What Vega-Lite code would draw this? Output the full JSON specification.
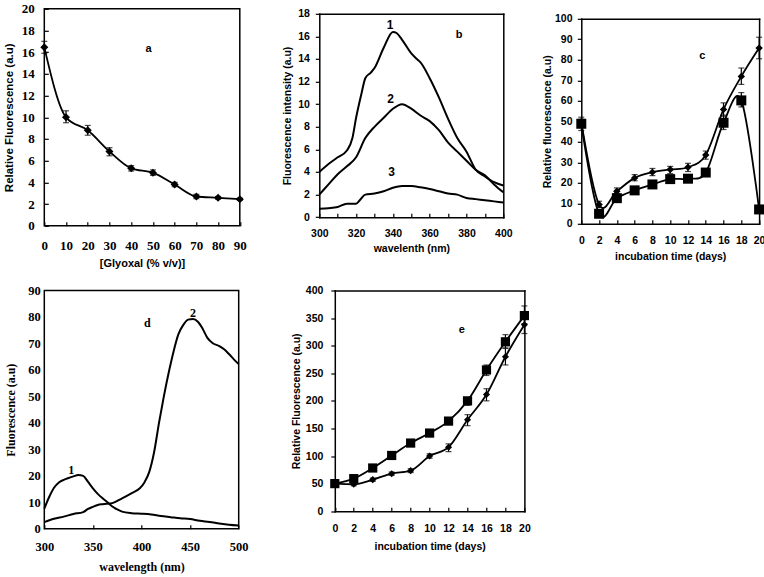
{
"$schema": "https://vega.github.io/schema/vega-lite/v6.json",
"background": "white",
"padding": {"left": 2.3, "top": 1.8, "right": 0, "bottom": 0},
"config": {
  "view": {"stroke": "black", "strokeWidth": 1.5},
  "axis": {"grid": false, "domain": false, "domainColor": "black", "domainWidth": 1.5, "domainCap": "square", "tickColor": "black", "tickWidth": 1.2, "labelColor": "black", "titleColor": "black", "labelFontWeight": "bold", "titleFontWeight": "bold", "labelFont": "Liberation Sans", "titleFont": "Liberation Sans", "labelFontSize": 10.5, "titleFontSize": 10.5, "labelOverlap": false, "labelFlush": false},
  "mark": {"color": "black"},
  "line": {"color": "black"},
  "point": {"color": "black"}
},
"columns": 5,
"bounds": "flush",
"spacing": {"row": 64.7, "column": 0},
"concat": [
  {
    "width": 195.5, "height": 217,
    "data": {"values": [{"x":0,"y":16.45,"lo":15.9,"hi":17.0},{"x":10,"y":10.0,"lo":9.5,"hi":10.6},{"x":20,"y":8.8,"lo":8.35,"hi":9.25},{"x":30,"y":6.85,"lo":6.45,"hi":7.2},{"x":40,"y":5.3,"lo":5.05,"hi":5.55},{"x":50,"y":4.9,"lo":4.65,"hi":5.15},{"x":60,"y":3.8,"lo":3.6,"hi":4.0},{"x":70,"y":2.7,"lo":2.5,"hi":2.9},{"x":80,"y":2.58,"lo":2.45,"hi":2.7},{"x":90,"y":2.45,"lo":2.35,"hi":2.55}]},
    "encoding": {
      "x": {"field": "x", "type": "quantitative", "title": "[Glyoxal (% v/v)]", "scale": {"domain": [0, 90], "nice": false, "zero": false},
            "axis": {"values": [0,10,20,30,40,50,60,70,80,90], "tickSize": -4, "labelPadding": 17.5, "labelFont": "Liberation Serif", "labelFontSize": 13, "titleFontSize": 11, "titlePadding": 5.7}},
      "y": {"field": "y", "type": "quantitative", "title": "Relative Fluorescence (a.u)", "scale": {"domain": [0, 20], "nice": false},
            "axis": {"values": [0,2,4,6,8,10,12,14,16,18,20], "tickSize": -4, "labelPadding": 14, "labelFont": "Liberation Serif", "labelFontSize": 13, "titleFontSize": 11.5, "titlePadding": 6.5}}
    },
    "layer": [
      {"mark": {"type": "line", "interpolate": "monotone", "strokeWidth": 1.8}},
      {"mark": {"type": "errorbar", "ticks": true, "size": 6, "thickness": 1.2, "color": "black"},
       "encoding": {"y": {"field": "lo", "type": "quantitative", "title": "Relative Fluorescence (a.u)", "scale": {"domain": [0, 20], "nice": false}}, "y2": {"field": "hi"}}},
      {"mark": {"type": "point", "shape": "diamond", "filled": true, "size": 64, "opacity": 1}},
      {"data": {"values": [{"x": 48, "y": 16.3, "t": "a"}]}, "mark": {"type": "text", "font": "Liberation Sans", "fontSize": 11, "fontWeight": "bold"}, "encoding": {"text": {"field": "t"}}}
    ]
  },
  {"width": 78.4, "height": 1, "data": {"values": []}, "mark": "point", "encoding": {}, "view": {"stroke": null}},
  {
    "width": 184, "height": 208.4, "view": {"stroke": null},
    "data": {"values": [
      {"c":1,"x":300,"y":4.0},{"c":1,"x":305,"y":4.7},{"c":1,"x":310,"y":5.3},{"c":1,"x":315,"y":5.9},{"c":1,"x":318,"y":7.0},{"c":1,"x":320,"y":8.8},{"c":1,"x":323,"y":11.0},{"c":1,"x":325,"y":12.3},{"c":1,"x":328,"y":12.8},{"c":1,"x":330,"y":13.2},{"c":1,"x":335,"y":15.0},{"c":1,"x":340,"y":16.4},{"c":1,"x":342,"y":16.3},{"c":1,"x":345,"y":15.7},{"c":1,"x":350,"y":14.5},{"c":1,"x":353,"y":14.0},{"c":1,"x":355,"y":13.7},{"c":1,"x":360,"y":12.3},{"c":1,"x":365,"y":10.6},{"c":1,"x":370,"y":8.7},{"c":1,"x":375,"y":7.0},{"c":1,"x":380,"y":5.8},{"c":1,"x":385,"y":4.2},{"c":1,"x":390,"y":3.6},{"c":1,"x":395,"y":3.1},{"c":1,"x":400,"y":2.8},
      {"c":2,"x":300,"y":2.0},{"c":2,"x":305,"y":2.9},{"c":2,"x":310,"y":3.8},{"c":2,"x":315,"y":4.5},{"c":2,"x":320,"y":5.3},{"c":2,"x":325,"y":7.0},{"c":2,"x":330,"y":8.0},{"c":2,"x":335,"y":8.8},{"c":2,"x":340,"y":9.6},{"c":2,"x":345,"y":10.0},{"c":2,"x":350,"y":9.6},{"c":2,"x":355,"y":9.0},{"c":2,"x":360,"y":8.5},{"c":2,"x":365,"y":7.7},{"c":2,"x":370,"y":6.6},{"c":2,"x":375,"y":5.8},{"c":2,"x":380,"y":5.0},{"c":2,"x":385,"y":4.2},{"c":2,"x":390,"y":3.7},{"c":2,"x":395,"y":2.9},{"c":2,"x":400,"y":2.2},
      {"c":3,"x":300,"y":0.75},{"c":3,"x":305,"y":0.8},{"c":3,"x":310,"y":0.9},{"c":3,"x":315,"y":1.2},{"c":3,"x":320,"y":1.2},{"c":3,"x":322,"y":1.5},{"c":3,"x":325,"y":2.0},{"c":3,"x":330,"y":2.1},{"c":3,"x":335,"y":2.3},{"c":3,"x":340,"y":2.6},{"c":3,"x":345,"y":2.75},{"c":3,"x":350,"y":2.75},{"c":3,"x":355,"y":2.65},{"c":3,"x":360,"y":2.5},{"c":3,"x":365,"y":2.3},{"c":3,"x":370,"y":2.1},{"c":3,"x":375,"y":2.0},{"c":3,"x":380,"y":1.7},{"c":3,"x":385,"y":1.6},{"c":3,"x":390,"y":1.5},{"c":3,"x":395,"y":1.4},{"c":3,"x":400,"y":1.3}
    ]},
    "layer": [
      {"mark": {"type": "line", "interpolate": "monotone", "strokeWidth": 2},
       "encoding": {
         "x": {"field": "x", "type": "quantitative", "title": "wavelenth (nm)", "scale": {"domain": [300, 400], "nice": false, "zero": false},
               "axis": {"values": [300,310,320,330,340,350,360,370,380,390,400], "labelExpr": "datum.value % 20 === 0 ? datum.label : ''", "tickSize": -4, "labelPadding": 15.35, "titlePadding": 4.5, "domain": true}},
         "y": {"field": "y", "type": "quantitative", "title": "Fluorescence intensity (a.u)", "scale": {"domain": [0, 18], "nice": false, "range": [208.4, 5]},
               "axis": {"values": [0,2,4,6,8,10,12,14,16,18], "tickSize": 4, "labelPadding": 6, "titlePadding": 5, "domain": true}},
         "detail": {"field": "c"}}},
      {"data": {"values": [{"x": 338.4, "y": 17.0, "t": "1"}, {"x": 338.8, "y": 10.5, "t": "2"}, {"x": 339.3, "y": 4.0, "t": "3"}]},
       "mark": {"type": "text", "font": "Liberation Sans", "fontSize": 12, "fontWeight": "bold"},
       "encoding": {
         "x": {"field": "x", "type": "quantitative", "title": null, "scale": {"domain": [300, 400], "nice": false, "zero": false},
               "axis": {"orient": "top", "labels": false, "ticks": false, "domain": true, "offset": -5}},
         "y": {"field": "y", "type": "quantitative", "title": null, "scale": {"domain": [0, 18], "nice": false, "range": [208.4, 5]},
               "axis": {"orient": "right", "labels": false, "ticks": false, "domain": true}},
         "text": {"field": "t"}}},
      {"data": {"values": [{"x": 376, "y": 16.1, "t": "b"}]},
       "mark": {"type": "text", "font": "Liberation Sans", "fontSize": 11, "fontWeight": "bold"},
       "encoding": {
         "x": {"field": "x", "type": "quantitative", "scale": {"domain": [300, 400], "nice": false, "zero": false}, "axis": null},
         "y": {"field": "y", "type": "quantitative", "scale": {"domain": [0, 18], "nice": false, "range": [208.4, 5]}, "axis": null},
         "text": {"field": "t"}}}
    ],
    "resolve": {"axis": {"x": "independent", "y": "independent"}}
  },
  {"width": 55.9, "height": 1, "data": {"values": []}, "mark": "point", "encoding": {}, "view": {"stroke": null}},
  {
    "width": 177.8, "height": 215, "view": {"stroke": null},
    "data": {"values": [
      {"s":"d","x":0,"y":49.6,"lo":47,"hi":52},{"s":"d","x":2,"y":9.4,"lo":8,"hi":11},{"s":"d","x":4,"y":15.9,"lo":14.5,"hi":17.5},{"s":"d","x":6,"y":22.4,"lo":21,"hi":24},{"s":"d","x":8,"y":25.2,"lo":23.5,"hi":27},{"s":"d","x":10,"y":26.5,"lo":24.5,"hi":28},{"s":"d","x":12,"y":27.6,"lo":25.5,"hi":29.5},{"s":"d","x":14,"y":33.6,"lo":31.5,"hi":35.5},{"s":"d","x":16,"y":55.8,"lo":52.5,"hi":59},{"s":"d","x":18,"y":71.9,"lo":68,"hi":76},{"s":"d","x":20,"y":85.7,"lo":80.5,"hi":91},
      {"s":"s","x":0,"y":48.8,"lo":45.5,"hi":51},{"s":"s","x":2,"y":4.9,"lo":4,"hi":6},{"s":"s","x":4,"y":12.5,"lo":11.5,"hi":13.5},{"s":"s","x":6,"y":16.3,"lo":15.5,"hi":17},{"s":"s","x":8,"y":19.2,"lo":18,"hi":20},{"s":"s","x":10,"y":21.8,"lo":21,"hi":22.5},{"s":"s","x":12,"y":22,"lo":21.3,"hi":22.7},{"s":"s","x":14,"y":25,"lo":24,"hi":26},{"s":"s","x":16,"y":49.3,"lo":46,"hi":53},{"s":"s","x":18,"y":60.2,"lo":57,"hi":64},{"s":"s","x":20,"y":7,"lo":6,"hi":8}
    ]},
    "layer": [
      {"mark": {"type": "line", "interpolate": "cardinal", "strokeWidth": 1.8},
       "encoding": {
         "x": {"field": "x", "type": "quantitative", "title": "incubation time (days)", "scale": {"domain": [0, 20], "nice": false, "zero": false},
               "axis": {"values": [0,2,4,6,8,10,12,14,16,18,20], "tickSize": -4, "labelPadding": 15.45, "titlePadding": 6.2, "domain": true}},
         "y": {"field": "y", "type": "quantitative", "title": "Relative fluorescence  (a.u)", "scale": {"domain": [0, 100], "nice": false, "range": [215, 10]},
               "axis": {"values": [0,10,20,30,40,50,60,70,80,90,100], "tickSize": 4, "labelPadding": 5.3, "titlePadding": 1.5, "domain": true}},
         "detail": {"field": "s"}}},
      {"mark": {"type": "errorbar", "ticks": true, "size": 6, "thickness": 1.2, "color": "black"},
       "encoding": {
         "x": {"field": "x", "type": "quantitative", "scale": {"domain": [0, 20], "nice": false, "zero": false}, "axis": null},
         "y": {"field": "lo", "type": "quantitative", "scale": {"domain": [0, 100], "nice": false, "range": [215, 10]}, "axis": null},
         "y2": {"field": "hi"}}},
      {"transform": [{"filter": "datum.s === 'd'"}], "mark": {"type": "point", "shape": "diamond", "filled": true, "size": 55, "opacity": 1},
       "encoding": {
         "x": {"field": "x", "type": "quantitative", "scale": {"domain": [0, 20], "nice": false, "zero": false}, "axis": null},
         "y": {"field": "y", "type": "quantitative", "scale": {"domain": [0, 100], "nice": false, "range": [215, 10]}, "axis": null}}},
      {"transform": [{"filter": "datum.s === 's'"}], "mark": {"type": "point", "shape": "square", "filled": true, "size": 100, "opacity": 1},
       "encoding": {
         "x": {"field": "x", "type": "quantitative", "scale": {"domain": [0, 20], "nice": false, "zero": false}, "axis": null},
         "y": {"field": "y", "type": "quantitative", "scale": {"domain": [0, 100], "nice": false, "range": [215, 10]}, "axis": null}}},
      {"data": {"values": [{"x": 13.6, "y": 82, "t": "c"}]},
       "mark": {"type": "text", "font": "Liberation Sans", "fontSize": 11, "fontWeight": "bold"},
       "encoding": {
         "x": {"field": "x", "type": "quantitative", "title": null, "scale": {"domain": [0, 20], "nice": false, "zero": false},
               "axis": {"orient": "top", "labels": false, "ticks": false, "domain": true, "offset": -10}},
         "y": {"field": "y", "type": "quantitative", "title": null, "scale": {"domain": [0, 100], "nice": false, "range": [215, 10]},
               "axis": {"orient": "right", "labels": false, "ticks": false, "domain": true}},
         "text": {"field": "t"}}}
    ],
    "resolve": {"axis": {"x": "independent", "y": "independent"}}
  },
  {
    "width": 194.4, "height": 238.3,
    "data": {"values": [
      {"c":1,"x":300,"y":7.6},{"c":1,"x":305,"y":12},{"c":1,"x":310,"y":15.5},{"c":1,"x":315,"y":17.5},{"c":1,"x":320,"y":18.5},{"c":1,"x":325,"y":19.2},{"c":1,"x":330,"y":19.8},{"c":1,"x":335,"y":20.3},{"c":1,"x":340,"y":20.0},{"c":1,"x":345,"y":17.7},{"c":1,"x":350,"y":15.3},{"c":1,"x":355,"y":13.2},{"c":1,"x":360,"y":11.5},{"c":1,"x":365,"y":10.0},{"c":1,"x":370,"y":8.4},{"c":1,"x":375,"y":7.3},{"c":1,"x":380,"y":6.5},{"c":1,"x":390,"y":5.9},{"c":1,"x":400,"y":5.7},{"c":1,"x":410,"y":5.4},{"c":1,"x":420,"y":4.8},{"c":1,"x":430,"y":4.4},{"c":1,"x":440,"y":4.0},{"c":1,"x":450,"y":3.7},{"c":1,"x":460,"y":3.0},{"c":1,"x":470,"y":2.6},{"c":1,"x":480,"y":2.0},{"c":1,"x":490,"y":1.5},{"c":1,"x":500,"y":1.2},
      {"c":2,"x":300,"y":2.5},{"c":2,"x":310,"y":3.8},{"c":2,"x":320,"y":4.6},{"c":2,"x":330,"y":5.6},{"c":2,"x":340,"y":6.3},{"c":2,"x":345,"y":7.5},{"c":2,"x":350,"y":8.3},{"c":2,"x":355,"y":9.0},{"c":2,"x":360,"y":9.3},{"c":2,"x":370,"y":9.7},{"c":2,"x":380,"y":11.5},{"c":2,"x":390,"y":13.5},{"c":2,"x":398,"y":15.2},{"c":2,"x":403,"y":17.5},{"c":2,"x":408,"y":21.5},{"c":2,"x":413,"y":29},{"c":2,"x":418,"y":40},{"c":2,"x":423,"y":50},{"c":2,"x":428,"y":59},{"c":2,"x":433,"y":67},{"c":2,"x":438,"y":73.5},{"c":2,"x":443,"y":77},{"c":2,"x":448,"y":79},{"c":2,"x":453,"y":79.2},{"c":2,"x":458,"y":78.2},{"c":2,"x":463,"y":75.5},{"c":2,"x":468,"y":72},{"c":2,"x":473,"y":70.2},{"c":2,"x":480,"y":69},{"c":2,"x":485,"y":67.8},{"c":2,"x":490,"y":66},{"c":2,"x":495,"y":64},{"c":2,"x":500,"y":62.2}
    ]},
    "encoding": {
      "x": {"field": "x", "type": "quantitative", "title": "wavelength (nm)", "scale": {"domain": [300, 500], "nice": false, "zero": false},
            "axis": {"values": [300,350,400,450,500], "tickSize": -4, "labelPadding": 16.1, "labelFont": "Liberation Serif", "labelFontSize": 12.5, "titleFont": "Liberation Serif", "titleFontSize": 12, "titlePadding": 7.8}},
      "y": {"field": "y", "type": "quantitative", "title": "Fluorescence (a.u)", "scale": {"domain": [0, 90], "nice": false},
            "axis": {"values": [0,10,20,30,40,50,60,70,80,90], "ticks": false, "labelPadding": 4, "labelFont": "Liberation Serif", "labelFontSize": 12.5, "titleFont": "Liberation Serif", "titleFontSize": 12, "titlePadding": 10.7}}
    },
    "layer": [
      {"mark": {"type": "line", "interpolate": "monotone", "strokeWidth": 2}, "encoding": {"detail": {"field": "c"}}},
      {"data": {"values": [{"x": 327.6, "y": 22.1, "t": "1"}, {"x": 453, "y": 81.5, "t": "2"}, {"x": 406, "y": 77.7, "t": "d"}]}, "mark": {"type": "text", "font": "Liberation Serif", "fontSize": 12, "fontWeight": "bold"}, "encoding": {"text": {"field": "t"}}}
    ]
  },
  {"width": 78.4, "height": 1, "data": {"values": []}, "mark": "point", "encoding": {}, "view": {"stroke": null}},
  {
    "width": 205.1, "height": 220.7, "view": {"stroke": null},
    "data": {"values": [
      {"s":"s","x":0,"y":50,"lo":47,"hi":53},{"s":"s","x":2,"y":59,"lo":56,"hi":62},{"s":"s","x":4,"y":78.3,"lo":74,"hi":82},{"s":"s","x":6,"y":101,"lo":97,"hi":105},{"s":"s","x":8,"y":123.5,"lo":119,"hi":128},{"s":"s","x":10,"y":141.6,"lo":137,"hi":146},{"s":"s","x":12,"y":163.3,"lo":158,"hi":168},{"s":"s","x":14,"y":200,"lo":192,"hi":206},{"s":"s","x":16,"y":256,"lo":246,"hi":265},{"s":"s","x":18,"y":307,"lo":296,"hi":320},{"s":"s","x":20,"y":354.5,"lo":340,"hi":372},
      {"s":"d","x":0,"y":50,"lo":48,"hi":52},{"s":"d","x":2,"y":48.8,"lo":46,"hi":51},{"s":"d","x":4,"y":57.2,"lo":54,"hi":60},{"s":"d","x":6,"y":68,"lo":65,"hi":71},{"s":"d","x":8,"y":73.5,"lo":70,"hi":77},{"s":"d","x":10,"y":100,"lo":96,"hi":104},{"s":"d","x":12,"y":116,"lo":108,"hi":122},{"s":"d","x":14,"y":165.7,"lo":155,"hi":175},{"s":"d","x":16,"y":211.4,"lo":200,"hi":222},{"s":"d","x":18,"y":280,"lo":265,"hi":295},{"s":"d","x":20,"y":338,"lo":322,"hi":355}
    ]},
    "layer": [
      {"mark": {"type": "line", "interpolate": "monotone", "strokeWidth": 1.8},
       "encoding": {
         "x": {"field": "x", "type": "quantitative", "title": "incubation time (days)", "scale": {"domain": [0, 20], "nice": false, "zero": false, "range": [15.5, 205.1]},
               "axis": {"values": [0,2,4,6,8,10,12,14,16,18,20], "tickSize": -4, "labelPadding": 16.35, "titlePadding": 7.9, "domain": true}},
         "y": {"field": "y", "type": "quantitative", "title": "Relative Fluorescence  (a.u)", "scale": {"domain": [0, 400], "nice": false},
               "axis": {"values": [0,50,100,150,200,250,300,350,400], "tickSize": 4, "labelPadding": 8, "titlePadding": 3.85, "domain": true, "offset": -15.5}},
         "detail": {"field": "s"}}},
      {"mark": {"type": "errorbar", "ticks": true, "size": 6, "thickness": 1.2, "color": "black"},
       "encoding": {
         "x": {"field": "x", "type": "quantitative", "scale": {"domain": [0, 20], "nice": false, "zero": false, "range": [15.5, 205.1]}, "axis": null},
         "y": {"field": "lo", "type": "quantitative", "scale": {"domain": [0, 400], "nice": false}, "axis": null},
         "y2": {"field": "hi"}}},
      {"transform": [{"filter": "datum.s === 'd'"}], "mark": {"type": "point", "shape": "diamond", "filled": true, "size": 50, "opacity": 1},
       "encoding": {
         "x": {"field": "x", "type": "quantitative", "scale": {"domain": [0, 20], "nice": false, "zero": false, "range": [15.5, 205.1]}, "axis": null},
         "y": {"field": "y", "type": "quantitative", "scale": {"domain": [0, 400], "nice": false}, "axis": null}}},
      {"transform": [{"filter": "datum.s === 's'"}], "mark": {"type": "point", "shape": "square", "filled": true, "size": 85, "opacity": 1},
       "encoding": {
         "x": {"field": "x", "type": "quantitative", "scale": {"domain": [0, 20], "nice": false, "zero": false, "range": [15.5, 205.1]}, "axis": null},
         "y": {"field": "y", "type": "quantitative", "scale": {"domain": [0, 400], "nice": false}, "axis": null}}},
      {"data": {"values": [{"x": 13.4, "y": 328, "t": "e"}]},
       "mark": {"type": "text", "font": "Liberation Sans", "fontSize": 11, "fontWeight": "bold"},
       "encoding": {
         "x": {"field": "x", "type": "quantitative", "title": null, "scale": {"domain": [0, 20], "nice": false, "zero": false, "range": [15.5, 205.1]},
               "axis": {"orient": "top", "labels": false, "ticks": false, "domain": true}},
         "y": {"field": "y", "type": "quantitative", "title": null, "scale": {"domain": [0, 400], "nice": false},
               "axis": {"orient": "right", "labels": false, "ticks": false, "domain": true}},
         "text": {"field": "t"}}}
    ],
    "resolve": {"axis": {"x": "independent", "y": "independent"}}
  }
]
}
